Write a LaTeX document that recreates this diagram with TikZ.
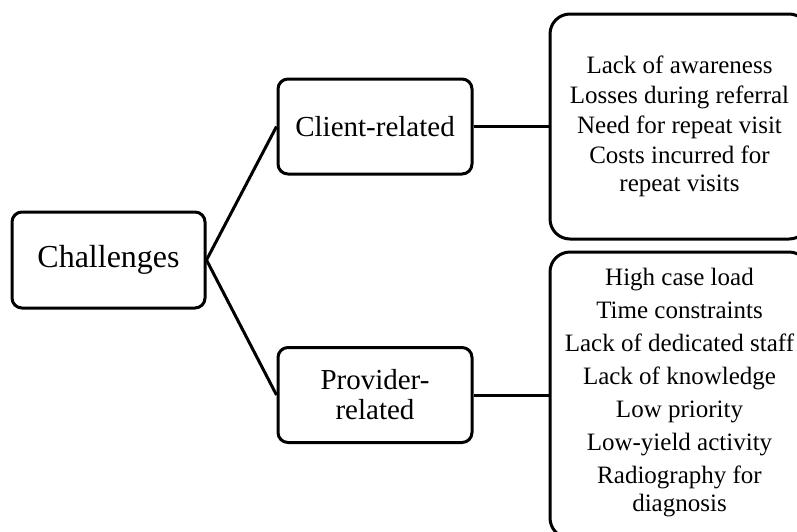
\documentclass[tikz,border=0pt]{standalone}
\usepackage{fontspec}
\setmainfont{Liberation Serif}
\usetikzlibrary{positioning}

\begin{document}
\begin{tikzpicture}[x=1pt, y=-1pt,
	% Style for the root box
	rootbox/.style={
		draw,
		rectangle,
		rounded corners=10pt,
		line width=3pt,
		minimum width=193pt,
		minimum height=96pt,
		align=center,
		font=\fontsize{32}{36}\selectfont
	},
	% Style for the two group boxes
	groupbox/.style={
		draw,
		rectangle,
		rounded corners=10pt,
		line width=3pt,
		minimum width=194pt,
		minimum height=95pt,
		align=center,
		font=\fontsize{29}{30}\selectfont
	},
	% Style for the lists on the right
	listbox/.style={
		draw,
		rectangle,
		rounded corners=20pt,
		line width=3pt,
		minimum width=259pt,
		inner sep=0pt,
		align=center,
		font=\fontsize{25}{28}\selectfont
	},
	% Style for the connectors
	link/.style={
		line width=3pt
	}
	]
	
	\useasboundingbox (0,0) rectangle (797,531);
	
	% --- Root and groups ---
	\node[rootbox] (chal) at (108.5,260) {Challenges};
	\node[groupbox] (client) at (375,126.5) {Client-related};
	\node[groupbox] (provider) at (375,395) {Provider-\\related};
	
	% --- Lists ---
	\node[listbox, minimum height=225pt, right=75pt of client] (clientlist)
	{Lack of awareness\\[2pt]
		Losses during referral\\[2pt]
		Need for repeat visit\\[2pt]
		Costs incurred for\\
		repeat visits};
	\node[listbox, minimum height=286pt, text depth=10pt, right=75pt of provider] (providerlist)
	{High case load\\[5pt]
		Time constraints\\[5pt]
		Lack of dedicated staff\\[5pt]
		Lack of knowledge\\[5pt]
		Low priority\\[5pt]
		Low-yield activity\\[5pt]
		Radiography for\\
		diagnosis};
	
	% --- Connectors ---
	\draw[link] (chal.east) -- (client.west);
	\draw[link] (chal.east) -- (provider.west);
	\draw[link] (client.east) -- (clientlist.west);
	\draw[link] (provider.east) -- (providerlist.west);
	
\end{tikzpicture}
\end{document}
